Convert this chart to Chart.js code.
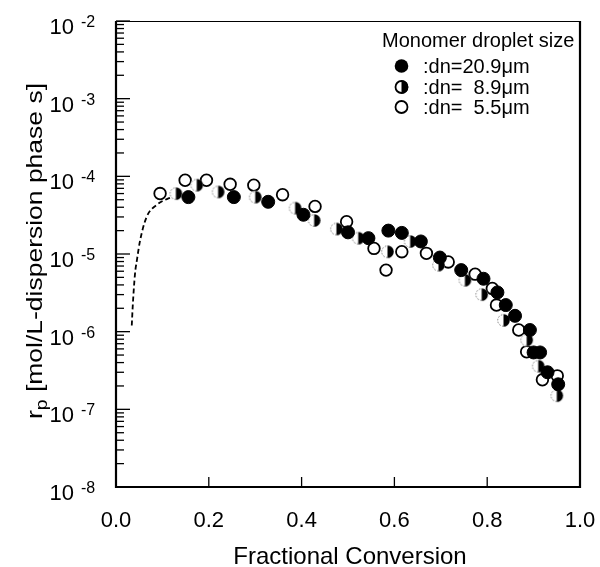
<!DOCTYPE html>
<html>
<head>
<meta charset="utf-8">
<script src="https://cdn.jsdelivr.net/npm/chart.js@4.4.1/dist/chart.umd.min.js"></script>
<style>
  body { margin: 0; background: #fff; }
  #wrap { width: 600px; height: 567px; }
</style>
</head>
<body>
<div id="wrap"><canvas id="rp-chart"></canvas></div>
<script>
const fontFamily = '"Liberation Sans", Arial, Helvetica, sans-serif'

// dn = 20.9 um (filled circles)
const bigX = [0.156, 0.254, 0.328, 0.404, 0.500, 0.544, 0.587, 0.616, 0.657, 0.698,
              0.744, 0.792, 0.822, 0.840, 0.860, 0.892, 0.900, 0.914, 0.930, 0.953]
const bigY = [5.4e-5, 5.4e-5, 4.7e-5, 3.2e-5, 1.9e-5, 1.6e-5, 2.0e-5, 1.87e-5, 1.45e-5, 9.0e-6,
              6.2e-6, 4.8e-6, 3.2e-6, 2.2e-6, 1.6e-6, 1.05e-6, 5.4e-7, 5.4e-7, 3.0e-7, 2.1e-7]

// dn = 8.9 um (half filled)
const midX = [0.129, 0.174, 0.220, 0.300, 0.386, 0.427, 0.475, 0.522, 0.585, 0.634,
              0.695, 0.752, 0.788, 0.835, 0.885, 0.910, 0.950]
const midY = [6.0e-5, 7.7e-5, 6.3e-5, 5.4e-5, 3.9e-5, 2.7e-5, 2.1e-5, 1.6e-5, 1.07e-5, 1.45e-5,
              7.2e-6, 4.6e-6, 3.0e-6, 1.4e-6, 7.8e-7, 3.6e-7, 1.5e-7]

// dn = 5.5 um (open circles)
const smallX = [0.095, 0.149, 0.195, 0.246, 0.297, 0.359, 0.429, 0.497, 0.556, 0.582,
                0.616, 0.669, 0.716, 0.774, 0.811, 0.820, 0.868, 0.885, 0.919, 0.951]
const smallY = [6.0e-5, 8.9e-5, 8.9e-5, 7.9e-5, 7.7e-5, 5.8e-5, 4.1e-5, 2.6e-5, 1.18e-5, 6.2e-6,
                1.07e-5, 1.02e-5, 7.9e-6, 5.5e-6, 3.6e-6, 2.2e-6, 1.05e-6, 5.5e-7, 2.4e-7, 2.7e-7]

// dashed curve at low conversion
const curveX = [0.034, 0.036, 0.041, 0.045, 0.052, 0.066, 0.088, 0.113, 0.13]
const curveY = [1.2e-6, 2.1e-6, 5.6e-6, 8.3e-6, 1.5e-5, 3.0e-5, 4.3e-5, 5.2e-5, 5.6e-5]

const xTickValues = [0, 0.2, 0.4, 0.6, 0.8, 1.0]
const yExponents = [-2, -3, -4, -5, -6, -7, -8]
const minorSteps = [2, 3, 4, 5, 6, 7, 8, 9]

const legendTitle = 'Monomer droplet size'
const legendLabels = [':dn=20.9\u03bcm', ':dn=  8.9\u03bcm', ':dn=  5.5\u03bcm']
const xTitle = 'Fractional Conversion'
const yTitleMain = 'r'
const yTitleSub = 'p'
const yTitleRest = ' [mol/L-dispersion phase s]'

const toPoints = (xs, ys) => xs.map((x, i) => ({ x: x, y: ys[i] }))

function halfMarker(r, dotted) {
    const c = document.createElement('canvas')
    const s = Math.ceil(r * 2 + 4)
    c.width = s
    c.height = s
    const g = c.getContext('2d')
    const m = s / 2
    g.fillStyle = '#fff'
    g.beginPath(); g.arc(m, m, r, 0, Math.PI * 2); g.fill()
    g.strokeStyle = dotted ? '#777' : '#000'
    g.lineWidth = dotted ? 1 : 1.8
    if (dotted) g.setLineDash([1.5, 1.5])
    g.beginPath(); g.arc(m, m, r - 0.5, Math.PI / 2, Math.PI * 1.5); g.stroke()
    g.setLineDash([])
    g.fillStyle = '#000'
    g.beginPath(); g.moveTo(m, m - r); g.arc(m, m, r, -Math.PI / 2, Math.PI / 2); g.closePath(); g.fill()
    return c
}

const halfPoint = halfMarker(6.3, true)

const frameAndLabels = {
    id: 'frameAndLabels',
    afterDraw(chart) {
        const ctx = chart.ctx
        const a = chart.chartArea
        const xs = chart.scales.x
        const ys = chart.scales.y
        ctx.save()
        ctx.strokeStyle = '#000'
        ctx.fillStyle = '#000'

        // y ticks, pointing inward
        ctx.lineWidth = 1.3
        yExponents.forEach(e => {
            const py = ys.getPixelForValue(Math.pow(10, e))
            ctx.beginPath(); ctx.moveTo(a.left, py); ctx.lineTo(a.left + 14, py); ctx.stroke()
        })
        yExponents.slice(1).forEach(e => {
            minorSteps.forEach(k => {
                const py = ys.getPixelForValue(k * Math.pow(10, e))
                ctx.beginPath(); ctx.moveTo(a.left, py); ctx.lineTo(a.left + 8, py); ctx.stroke()
            })
        })
        // x ticks, pointing inward
        xTickValues.forEach(v => {
            const px = xs.getPixelForValue(v)
            ctx.beginPath(); ctx.moveTo(px, a.bottom); ctx.lineTo(px, a.bottom - 10); ctx.stroke()
        })

        // frame
        ctx.lineWidth = 1
        ctx.beginPath(); ctx.moveTo(a.left, a.top + 0.5); ctx.lineTo(a.right, a.top + 0.5); ctx.stroke()
        ctx.lineWidth = 2.2
        ctx.beginPath()
        ctx.moveTo(a.left, a.top); ctx.lineTo(a.left, a.bottom)
        ctx.lineTo(a.right, a.bottom); ctx.lineTo(a.right, a.top)
        ctx.stroke()

        // y tick labels 10^-n
        yExponents.forEach(e => {
            const py = ys.getPixelForValue(Math.pow(10, e))
            ctx.font = '22px ' + fontFamily
            ctx.textAlign = 'right'
            ctx.textBaseline = 'alphabetic'
            ctx.fillText('10', a.left - 42, py + 13)
            ctx.font = '16px ' + fontFamily
            ctx.textAlign = 'left'
            ctx.fillText(String(e), a.left - 35, py + 6)
        })

        // x tick labels
        ctx.font = '22px ' + fontFamily
        ctx.textAlign = 'center'
        xTickValues.forEach(v => {
            ctx.fillText(v.toFixed(1), xs.getPixelForValue(v), a.bottom + 40)
        })

        // x title
        ctx.font = '24px ' + fontFamily
        ctx.fillText(xTitle, (a.left + a.right) / 2 + 2, 564)

        // y title with subscript, rotated
        ctx.save()
        ctx.translate(42, 251)
        ctx.rotate(-Math.PI / 2)
        ctx.font = '22px ' + fontFamily
        const wMain = ctx.measureText(yTitleMain).width
        const wRest = ctx.measureText(yTitleRest).width
        ctx.font = '16px ' + fontFamily
        const wSub = ctx.measureText(yTitleSub).width
        const total = wMain + wSub + wRest
        const stretch = 336 / total
        ctx.scale(stretch, 1)
        let tx = -total / 2
        ctx.textAlign = 'left'
        ctx.font = '22px ' + fontFamily
        ctx.fillText(yTitleMain, tx, 0)
        tx += wMain
        ctx.font = '16px ' + fontFamily
        ctx.fillText(yTitleSub, tx, 5)
        tx += wSub
        ctx.font = '22px ' + fontFamily
        ctx.fillText(yTitleRest, tx, 0)
        ctx.restore()

        // legend
        ctx.font = '20px ' + fontFamily
        ctx.textAlign = 'left'
        ctx.fillText(legendTitle, 382, 46.5)
        const rowY = [66, 87, 107]
        legendLabels.forEach((label, i) => {
            const cx = 401.5
            const cy = rowY[i]
            ctx.lineWidth = 1.8
            if (i === 0) {
                ctx.beginPath(); ctx.arc(cx, cy, 6.8, 0, Math.PI * 2); ctx.fill()
            } else if (i === 1) {
                ctx.beginPath(); ctx.arc(cx, cy, 6, 0, Math.PI * 2); ctx.stroke()
                ctx.beginPath(); ctx.moveTo(cx, cy - 6.8); ctx.arc(cx, cy, 6.8, -Math.PI / 2, Math.PI / 2); ctx.closePath(); ctx.fill()
            } else {
                ctx.beginPath(); ctx.arc(cx, cy, 6, 0, Math.PI * 2); ctx.stroke()
            }
            ctx.font = '20px ' + fontFamily
            ctx.fillText(label, 423, cy + 7)
        })
        ctx.restore()
    }
}

const rpData = {
    datasets: [
        {
            label: 'dn=20.9um',
            data: toPoints(bigX, bigY),
            pointStyle: 'circle',
            pointRadius: 6.5,
            backgroundColor: '#000',
            borderColor: '#000',
            borderWidth: 1,
            showLine: false,
        },
        {
            label: 'dn=8.9um',
            data: toPoints(midX, midY),
            pointStyle: halfPoint,
            pointRadius: 6.5,
            backgroundColor: '#000',
            borderColor: '#000',
            showLine: false,
        },
        {
            label: 'dn=5.5um',
            data: toPoints(smallX, smallY),
            pointStyle: 'circle',
            pointRadius: 5.8,
            backgroundColor: '#fff',
            borderColor: '#000',
            borderWidth: 1.8,
            showLine: false,
        },
        {
            label: 'curve',
            data: toPoints(curveX, curveY),
            showLine: true,
            pointRadius: 0,
            borderColor: '#000',
            borderWidth: 1.8,
            borderDash: [5, 3],
            cubicInterpolationMode: 'monotone',
        },
    ],
}

const rpConfig = {
    type: 'scatter',
    data: rpData,
    options: {
        responsive: true,
        maintainAspectRatio: false,
        animation: false,
        devicePixelRatio: 1,
        layout: { padding: { top: 21, right: 20, left: 0, bottom: 0 } },
        plugins: {
            legend: { display: false },
            tooltip: { enabled: false },
        },
        scales: {
            x: {
                type: 'linear',
                min: 0,
                max: 1,
                grid: { display: false },
                border: { display: false },
                ticks: { display: false },
                afterFit: (scale) => { scale.height = 80 },
            },
            y: {
                type: 'logarithmic',
                min: 1e-8,
                max: 1e-2,
                grid: { display: false },
                border: { display: false },
                ticks: { display: false },
                afterFit: (scale) => { scale.width = 116 },
            },
        },
    },
    plugins: [frameAndLabels],
}

const ctx = document.getElementById('rp-chart')
const rpChart = new Chart(ctx, rpConfig)
</script>
</body>
</html>
